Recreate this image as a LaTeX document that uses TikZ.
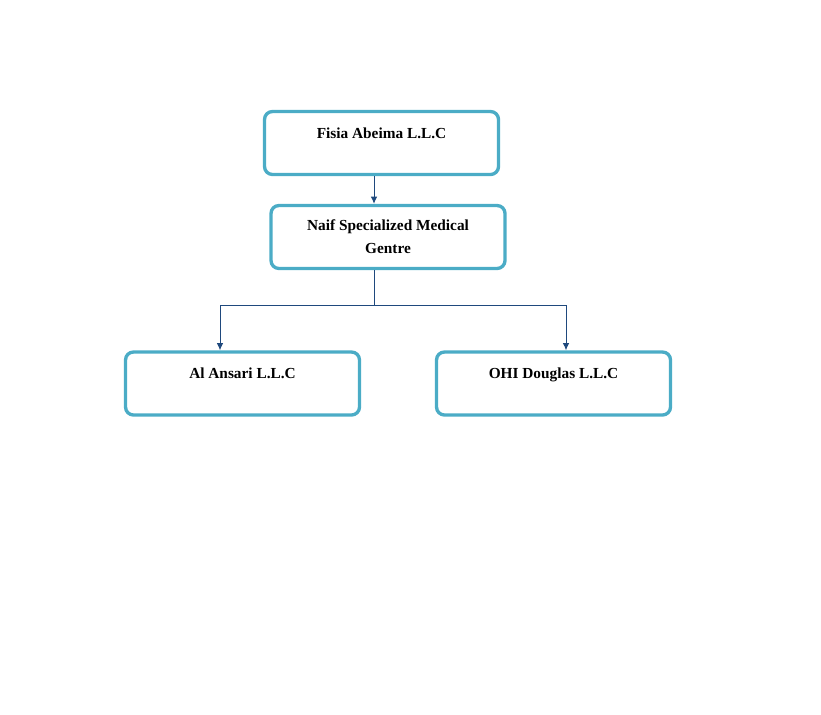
\documentclass[tikz,border=0pt]{standalone}
\usepackage{fontspec}
\setmainfont{Liberation Serif}
\usepackage{tikz}
\usetikzlibrary{positioning,arrows.meta}
\definecolor{boxline}{HTML}{4BACC6}
\definecolor{linkline}{HTML}{1F497D}

\tikzset{
    orgbox/.style={draw=boxline,line width=2.5pt,rounded corners=6pt,
        minimum width=175.5pt,minimum height=47.25pt,inner sep=2pt,
        font=\fontsize{11.5}{17}\selectfont\bfseries,align=center},
    topline/.style={text height=8pt,text depth=15pt},
    link/.style={draw=linkline,line width=.75pt},
    linkarrow/.style={link,-{Latex[length=5.5pt,width=5pt]}}
}

\begin{document}
\begin{tikzpicture}[x=.75pt,y=-.75pt]
    \useasboundingbox (0,0) rectangle (821,714);

    \node[orgbox,topline] (fisia) at (381.5,143) {Fisia Abeima L.L.C};
    \node[orgbox] (naif) at (388,237) {Naif Specialized Medical\\Gentre};

    \node[orgbox,topline] (ansari) at (242.5,383.5) {Al Ansari L.L.C};
    \node[orgbox,topline] (ohi) at (553.5,383.5) {OHI Douglas L.L.C};

    % branch points
    \coordinate (trunk) at (374,305);
    \coordinate (leftdrop) at (220,305);
    \coordinate (rightdrop) at (566,305);

    \draw[linkarrow] (trunk |- fisia.south) -- (trunk |- naif.north);
    \draw[link] (trunk |- naif.south) -- (trunk);
    \draw[linkarrow] (trunk) -- (leftdrop) -- (leftdrop |- ansari.north);
    \draw[linkarrow] (trunk) -- (rightdrop) -- (rightdrop |- ohi.north);
\end{tikzpicture}
\end{document}
